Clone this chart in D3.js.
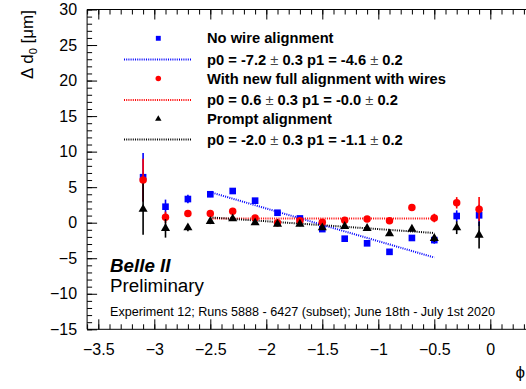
<!DOCTYPE html>
<html><head><meta charset="utf-8">
<script src="https://cdn.jsdelivr.net/npm/d3@7"></script>
<style>
html,body{margin:0;padding:0;background:#fff;}
svg{display:block;font-family:"Liberation Sans",Arial,Helvetica,sans-serif;}
</style></head>
<body>
<svg id="c" width="526" height="389"></svg>
<script>
// ---- data ----
const phi = [-3.1,-2.9,-2.7,-2.5,-2.3,-2.1,-1.9,-1.7,-1.5,-1.3,-1.1,-0.9,-0.7,-0.5,-0.3,-0.1];
const noWire      = [6.4, 2.25, 3.33, 4.0, 4.46, 3.1, 1.4, 0.6, -0.9, -2.25, -2.9, -4.1, -2.15, -2.45, 0.94, 1.04];
const noWireErr   = [3.4, 1.0, 0.6, 0.4, 0.3, 0.3, 0.3, 0.3, 0.3, 0.3, 0.3, 0.3, 0.3, 0.5, 0.8, 1.5];
const newAlign    = [6.0, 0.76, 1.3, 1.3, 1.6, 0.66, 0.0, 0.28, 0.05, 0.33, 0.52, 0.28, 2.15, 0.66, 2.8, 1.9];
const newAlignErr = [3.0, 0.8, 0.5, 0.4, 0.3, 0.3, 0.3, 0.3, 0.3, 0.3, 0.3, 0.3, 0.3, 0.6, 0.8, 1.7];
const prompt      = [1.9, -0.8, -0.7, 0.2, 0.56, 0.0, -0.2, -0.2, -0.7, -0.5, -0.8, -1.55, -0.9, -2.2, -0.7, -1.73];
const promptErr   = [3.6, 1.3, 0.5, 0.4, 0.3, 0.3, 0.3, 0.3, 0.3, 0.3, 0.3, 0.3, 0.3, 0.5, 0.9, 1.9];
// fit lines: endpoints [phi, value]
const fitRange = [-2.5, -0.5];
const noWireFit   = [4.3, -4.9];
const newAlignFit = [0.6, 0.6];
const promptFit   = [0.75, -1.45];
const xMajor = [-3.5,-3,-2.5,-2,-1.5,-1,-0.5,0];
const xMajorLabels = ["\u22123.5","\u22123","\u22122.5","\u22122","\u22121.5","\u22121","\u22120.5","0"];
const yMajor = [-15,-10,-5,0,5,10,15,20,25,30];
const yMajorLabels = ["\u221215","\u221210","\u22125","0","5","10","15","20","25","30"];
const legendLabels = ["No wire alignment","With new full alignment with wires","Prompt alignment"];
const fitP0 = [["-7.2","0.3"],["0.6","0.3"],["-2.0","0.3"]];
const fitP1 = [["-4.6","0.2"],["-0.0","0.2"],["-1.1","0.2"]];

// ---- layout ----
const svg = d3.select("#c");
const x = d3.scaleLinear().domain([-3.6, 0.4]).range([87.1, 535.1]);
const y = d3.scaleLinear().domain([-15, 30]).range([329.3, 9.5]);
const L = 87.1, T = 9.5, B = 329.3, R = 526;

const minorX = d3.range(-36, 5).map(v => v/10);
const minorY = d3.range(-15, 31);

// frame
svg.append("line").attr("x1",L).attr("x2",R+5).attr("y1",B).attr("y2",B).attr("stroke","#000");
svg.append("line").attr("x1",L).attr("x2",R+5).attr("y1",T).attr("y2",T).attr("stroke","#000");
svg.append("line").attr("x1",L).attr("x2",L).attr("y1",T).attr("y2",B).attr("stroke","#000");

function axisG(gen, tr){
  const g = svg.append("g").attr("transform", tr).call(gen);
  g.select(".domain").remove();
  g.selectAll("line").attr("stroke","#000").attr("stroke-width",1);
  return g;
}
// bottom
axisG(d3.axisBottom(x).tickValues(minorX).tickSize(-5).tickFormat(""), `translate(0,${B})`);
const gxb = axisG(d3.axisBottom(x).tickValues(xMajor).tickSize(-10).tickPadding(14)
  .tickFormat((d,i)=>xMajorLabels[i]), `translate(0,${B})`);
gxb.selectAll("text").attr("font-size",16).attr("fill","#000").attr("font-family","Liberation Sans, Arial, sans-serif");
// top
axisG(d3.axisTop(x).tickValues(minorX).tickSize(-5).tickFormat(""), `translate(0,${T})`);
axisG(d3.axisTop(x).tickValues(xMajor).tickSize(-10).tickFormat(""), `translate(0,${T})`);
// left
axisG(d3.axisLeft(y).tickValues(minorY).tickSize(-5).tickFormat(""), `translate(${L},0)`);
const gyl = axisG(d3.axisLeft(y).tickValues(yMajor).tickSize(-10).tickPadding(10)
  .tickFormat((d,i)=>yMajorLabels[i]), `translate(${L},0)`);
gyl.selectAll("text").attr("font-size",16).attr("fill","#000").attr("font-family","Liberation Sans, Arial, sans-serif");

// axis titles
const yt = svg.append("text").attr("transform","translate(33,10) rotate(-90)")
  .attr("text-anchor","end").attr("font-size",17);
yt.append("tspan").text("\u0394 d");
yt.append("tspan").attr("font-size",11).attr("dy",4).text("0");
yt.append("tspan").attr("dy",-4).text(" [\u03bcm]");
svg.append("text").attr("x",525).attr("y",378).attr("text-anchor","end").attr("font-size",17).text("\u03d5");

// series
const series = [
  {v:noWire, e:noWireErr, fit:noWireFit, color:"#0000ff", shape:d3.symbolSquare},
  {v:newAlign, e:newAlignErr, fit:newAlignFit, color:"#ff0000", shape:d3.symbolCircle},
  {v:prompt, e:promptErr, fit:promptFit, color:"#000000", shape:d3.symbolTriangle},
];
const plot = svg.append("g");
// fit lines
series.forEach(s=>{
  plot.append("line").attr("x1",x(fitRange[0])).attr("x2",x(fitRange[1]))
    .attr("y1",y(s.fit[0])).attr("y2",y(s.fit[1]))
    .attr("stroke",s.color).attr("stroke-width",2).attr("stroke-dasharray","1,1.2");
});
series.forEach(s=>{
  const g = plot.append("g");
  g.selectAll("line").data(phi).join("line")
    .attr("x1",d=>x(d)).attr("x2",d=>x(d))
    .attr("y1",(d,i)=>y(s.v[i]+s.e[i])).attr("y2",(d,i)=>y(s.v[i]-s.e[i]))
    .attr("stroke",s.color).attr("stroke-width",1.6);
  g.selectAll("path").data(phi).join("path")
    .attr("d", d3.symbol().type(s.shape).size(s.shape===d3.symbolTriangle?36:44))
    .attr("transform",(d,i)=>`translate(${x(d)},${y(s.v[i])})`)
    .attr("fill",s.color);
});

// legend
const legRows = [38.3, 78.5, 119];
const legLines = [59.5, 100, 139.5];
series.forEach((s,i)=>{
  svg.append("path").attr("d", d3.symbol().type(s.shape).size(s.shape===d3.symbolTriangle?18:24))
    .attr("transform",`translate(158.3,${legRows[i]})`).attr("fill",s.color);
  svg.append("line").attr("x1",124).attr("x2",192).attr("y1",legLines[i]).attr("y2",legLines[i])
    .attr("stroke",s.color).attr("stroke-width",2).attr("stroke-dasharray","1,1.2");
  svg.append("text").attr("x",207).attr("y",legRows[i]+5).attr("font-size",14.7).attr("font-weight","bold")
    .text(legendLabels[i]);
  const t = svg.append("text").attr("x",207).attr("y",legLines[i]+5).attr("font-size",14.7).attr("font-weight","bold");
  t.append("tspan").text(`p0 = ${fitP0[i][0]} `);
  t.append("tspan").attr("font-weight","normal").attr("fill","#444").text("\u00b1");
  t.append("tspan").text(` ${fitP0[i][1]} p1 = ${fitP1[i][0]} `);
  t.append("tspan").attr("font-weight","normal").attr("fill","#444").text("\u00b1");
  t.append("tspan").text(` ${fitP1[i][1]}`);
});

// labels
svg.append("text").attr("x",110).attr("y",271.7).attr("font-size",18.8).attr("font-weight","bold")
  .attr("font-style","italic").text("Belle II");
svg.append("text").attr("x",110).attr("y",291.5).attr("font-size",18.8).text("Preliminary");
svg.append("text").attr("x",110).attr("y",316).attr("font-size",12.6).
  text("Experiment 12; Runs 5888 - 6427 (subset); June 18th - July 1st 2020");
</script>
</body></html>
